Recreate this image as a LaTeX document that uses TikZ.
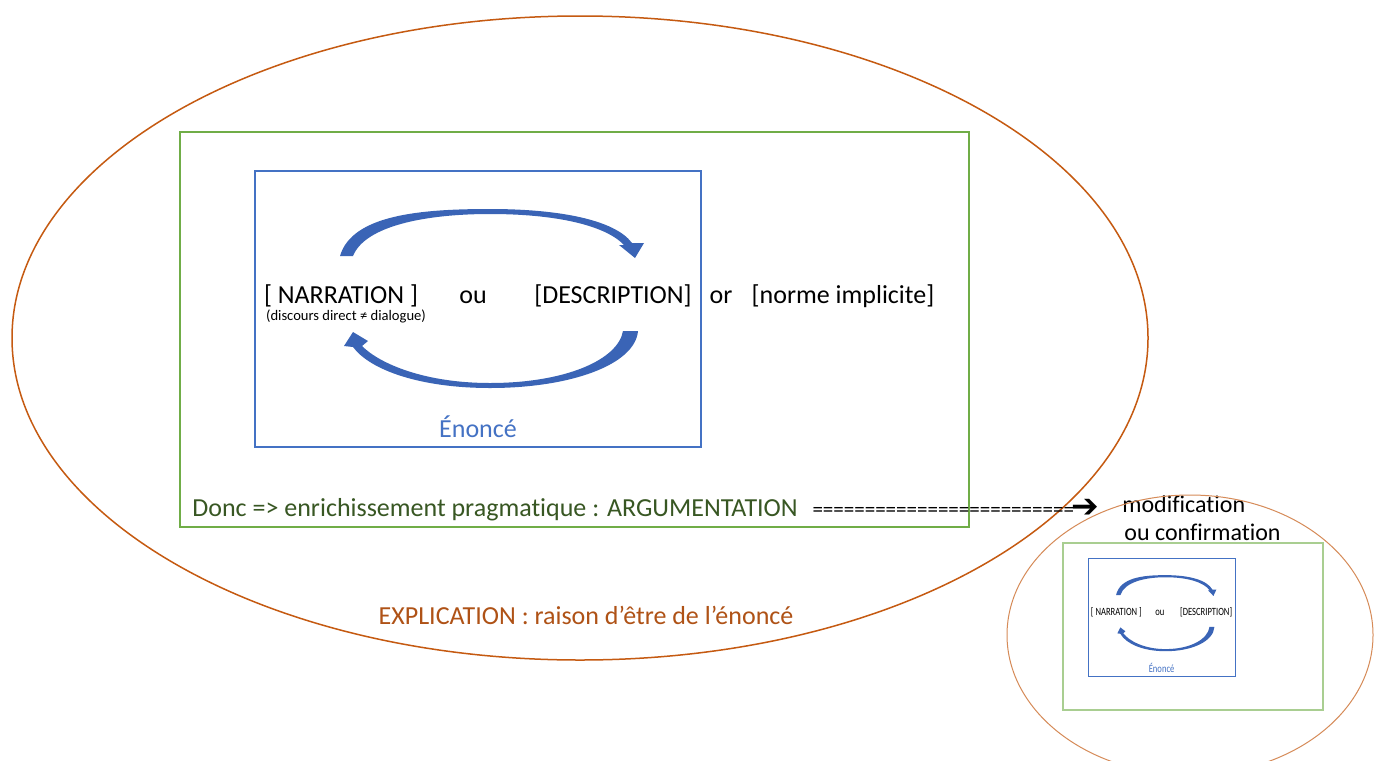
\documentclass[tikz,border=0pt]{standalone}
\usepackage{fontspec}
\setmainfont[Ligatures=NoCommon]{Carlito}
\newfontfamily\arrowfont{DejaVu Sans}
\usepackage{tikz}
\usetikzlibrary{positioning}

\definecolor{boxgreen}{RGB}{112,173,71}
\definecolor{textgreen}{RGB}{56,87,35}
\definecolor{boxblue}{RGB}{68,114,196}
\definecolor{arrowblue}{RGB}{58,100,182}
\definecolor{ellbrown}{RGB}{197,90,17}
\definecolor{textbrown}{RGB}{175,82,22}

% blue "enonce" frame with its two curved arrows, #1 = prefix of node names
\newcommand{\enoncebox}[1]{%
  \draw[blueframe] (255,171) rectangle (701,447);
  \fill[arrowblue] (340,256) .. controls (352,215) and (420,209) .. (490,209)
    .. controls (560,209) and (615,220) .. (632,243)
    -- (644,243) -- (635,258) -- (619,245) -- (624,245)
    .. controls (605,225) and (555,214) .. (490,214)
    .. controls (425,214) and (365,226) .. (353,256) -- cycle;
  \fill[arrowblue] (638,331) .. controls (635,365) and (570,388) .. (490,388)
    .. controls (420,388) and (370,370) .. (353,347)
    -- (344,346) -- (353,332) -- (368,341) -- (362,346)
    .. controls (380,364) and (425,383) .. (490,383)
    .. controls (565,383) and (618,360) .. (623,331) -- cycle;
  \node[bigtext] (#1-narr) at (341,303) {[ NARRATION ]};
  \node[bigtext] (#1-ou) at (473,303) {ou};
  \node[bigtext] (#1-desc) at (613,303) {[DESCRIPTION]};
  \node[bigtext, text=boxblue] (#1-enonce) at (478,437) {Énoncé};
}

\begin{document}
\begin{tikzpicture}[x=0.5pt, y=-0.5pt,
    bigtext/.style={font=\fontsize{13}{15}\selectfont, inner sep=0pt, anchor=base},
    smalltext/.style={font=\fontsize{7.3}{8}\selectfont, inner sep=0pt, anchor=base},
    blueframe/.style={draw=boxblue, line width=0.75pt}]
  \clip (0,0) rectangle (1374,760);
  \fill[white] (0,0) rectangle (1374,760);

  % explication: large ellipse round everything
  \draw[ellbrown, line width=0.75pt] (580,338) ellipse [x radius=568, y radius=322];
  \node[bigtext, text=textbrown] (explic) at (586,624) {EXPLICATION : raison d’être de l’énoncé};

  % argumentation frame
  \draw[boxgreen, line width=0.75pt] (180,132) rectangle (969,527);
  \enoncebox{big}
  \node[smalltext] (discours) at (346,320) {(discours direct ≠ dialogue)};
  \node[bigtext] (or) at (721,303) {or};
  \node[bigtext] (norme) at (843,303) {[norme implicite]};
  \node[bigtext, text=textgreen, anchor=base west] (donc) at (192,516)
    {Donc => enrichissement pragmatique : ARGUMENTATION};

  % towards modification or confirmation
  \node[bigtext, font=\fontsize{10.5}{12}\selectfont, base right=7pt of donc] (eqs)
    {=========================\hspace{-1pt}{\arrowfont\fontsize{16.5}{16}\selectfont\raisebox{-0.5pt}{➔}}};
  \node[bigtext, font=\fontsize{12}{14}\selectfont, anchor=base west] (modif) at (1122,512) {modification};
  \node[bigtext, font=\fontsize{12}{14}\selectfont, anchor=base west] (confirm) at (1124,540) {ou confirmation};

  % reduced copy of the whole thing
  \draw[ellbrown!70, line width=0.5pt] (1190,635) ellipse [x radius=183, y radius=140];
  \draw[boxgreen!60, line width=0.6pt] (1063,543) rectangle (1323,710);
  \begin{scope}[shift={(1003.85,486.3)}, xscale=0.33, yscale=0.425, transform shape,
      blueframe/.style={draw=boxblue, line width=0.5pt}]
    \enoncebox{small}
  \end{scope}
\end{tikzpicture}
\end{document}
